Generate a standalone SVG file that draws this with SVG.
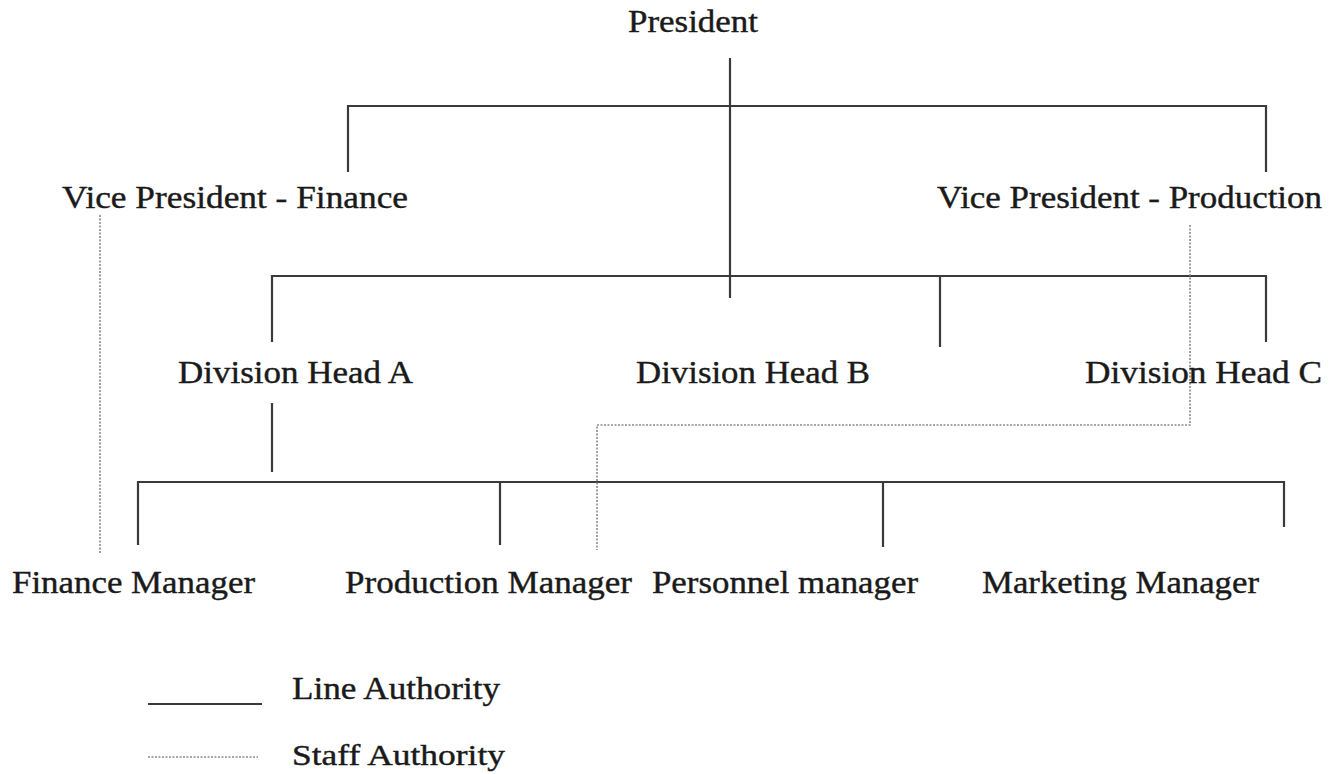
<svg xmlns="http://www.w3.org/2000/svg" width="1337" height="774" viewBox="0 0 1337 774">
<style>
text{font-family:"Liberation Serif","Times New Roman",serif;font-size:31px;fill:#1a1a1a;stroke:#1a1a1a;stroke-width:0.4}
.line{stroke:#3a3a3a;stroke-width:2.2;fill:none}
.staff{stroke:#8a8a8a;stroke-width:1.6;stroke-dasharray:2 1.5;fill:none}
</style>
<rect width="1337" height="774" fill="#fff"/>
<g id="connectors">
<path class="line" d="M730 58V298M348 172V106H1266V172M272 342V276H1266V342M940 276V347"/>
<path class="line" d="M272 403V472M138 545V482H1284V527M500 482V545M883 482V547"/>
<path class="staff" d="M100 215V553"/>
<path class="staff" d="M1190 225V425H597V550"/>
</g>
<g id="president"><text x="628" y="32" textLength="130" lengthAdjust="spacingAndGlyphs">President</text></g>
<g id="vp-finance"><text x="62" y="208" textLength="346" lengthAdjust="spacingAndGlyphs">Vice President - Finance</text></g>
<g id="vp-production"><text x="937" y="208" textLength="385" lengthAdjust="spacingAndGlyphs">Vice President - Production</text></g>
<g id="division-a"><text x="178" y="383" textLength="235" lengthAdjust="spacingAndGlyphs">Division Head A</text></g>
<g id="division-b"><text x="636" y="383" textLength="234" lengthAdjust="spacingAndGlyphs">Division Head B</text></g>
<g id="division-c"><text x="1085" y="383" textLength="237" lengthAdjust="spacingAndGlyphs">Division Head C</text></g>
<g id="finance-manager"><text x="12" y="593" textLength="243" lengthAdjust="spacingAndGlyphs">Finance Manager</text></g>
<g id="production-manager"><text x="345" y="593" textLength="287" lengthAdjust="spacingAndGlyphs">Production Manager</text></g>
<g id="personnel-manager"><text x="652" y="593" textLength="266" lengthAdjust="spacingAndGlyphs">Personnel manager</text></g>
<g id="marketing-manager"><text x="982" y="593" textLength="277" lengthAdjust="spacingAndGlyphs">Marketing Manager</text></g>
<g id="legend">
<path class="line" d="M148 704H262"/>
<path class="staff" d="M148 757H258"/>
<text x="292" y="699" textLength="208" lengthAdjust="spacingAndGlyphs">Line Authority</text>
<text x="292" y="765" style="font-size:29px" textLength="213" lengthAdjust="spacingAndGlyphs">Staff Authority</text>
</g>
</svg>
